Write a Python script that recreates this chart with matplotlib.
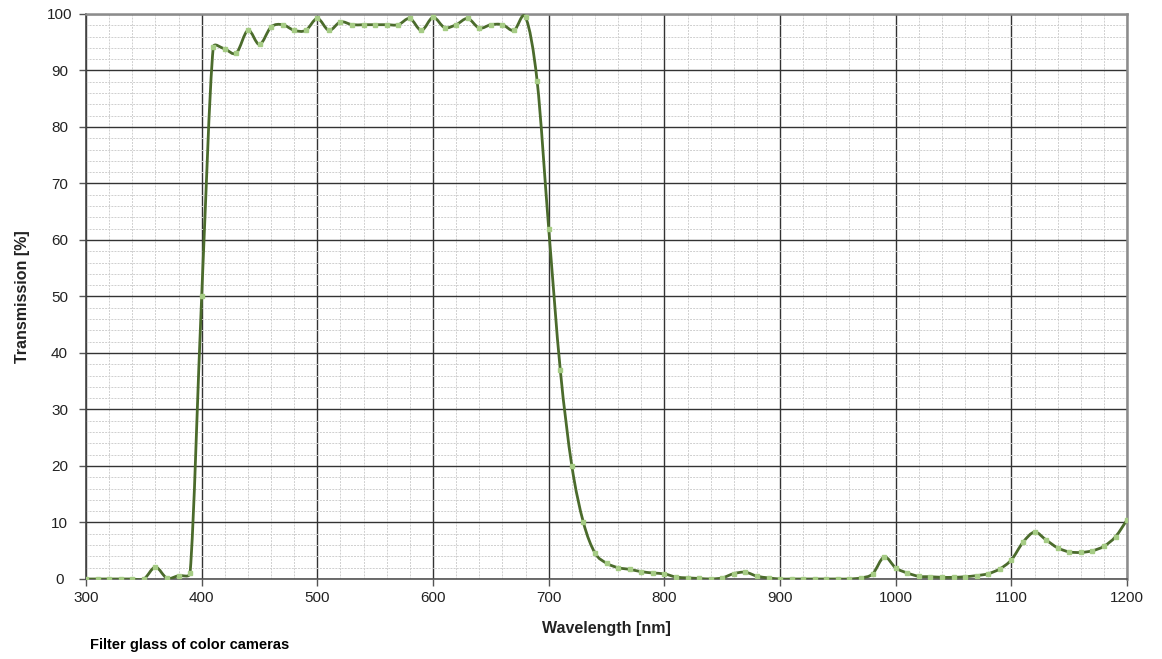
import numpy as np
import matplotlib.pyplot as plt
from matplotlib.path import Path
from matplotlib.patches import PathPatch
from matplotlib.ticker import MultipleLocator

plt.rcParams["font.family"] = ["Liberation Sans", "DejaVu Sans"]

# Wavelength samples every 10 nm
wavelength = np.arange(300, 1201, 10)

# Transmission
transmission = [
    0.0, 0.0, 0.0, 0.0, 0.0, 0.0, 2.1, 0.15, 0.6, 1.1,  # 300-390
    50.0, 94.1, 93.8, 93.1, 97.1, 94.6, 97.7, 98.1, 97.1, 97.1,  # 400-490
    99.2, 97.1, 98.6, 98.1, 98.1, 98.1, 98.1, 98.1, 99.2, 97.1,  # 500-590
    99.4, 97.6, 98.1, 99.2, 97.5, 98.1, 98.1, 97.1, 99.4, 88.1,  # 600-690
    62.0, 37.0, 20.0, 10.0, 4.6, 2.8, 2.0, 1.7, 1.3, 1.06,  # 700-790
    0.9, 0.35, 0.2, 0.1, 0.0, 0.2, 0.95, 1.2, 0.5, 0.2,  # 800-890
    0.0, 0.0, 0.0, 0.0, 0.0, 0.0, 0.0, 0.2, 0.9, 3.9,  # 900-990
    1.95, 1.06, 0.47, 0.4, 0.3, 0.3, 0.4, 0.6, 0.94, 1.8,  # 1000-1090
    3.4, 6.5, 8.3, 6.9, 5.5, 4.8, 4.7, 5.0, 5.8, 7.5,  # 1100-1190
    10.5,  # 1200
]

LINE_COLOR = "#4b6b2c"
MARKER_COLOR = "#a6cc85"


def smooth_path(x, y, sx=1041 / 900, sy=565 / 100, cap=0.5):
    """Excel style smoothed line: cubic Bezier through every point.
    Handles are capped relative to segment length (in pixel scale)
    so that steep edges do not overshoot much."""
    scale = np.array([sx, sy])
    pts = np.column_stack([x, y]).astype(float) * scale
    n = len(pts)
    verts = [pts[0]]
    codes = [Path.MOVETO]

    def limit(h, seg_len):
        L = np.hypot(*h)
        if L > cap * seg_len and L > 0:
            h = h * (cap * seg_len / L)
        return h

    for i in range(n - 1):
        p0 = pts[i - 1] if i > 0 else pts[i]
        p1 = pts[i]
        p2 = pts[i + 1]
        p3 = pts[i + 2] if i + 2 < n else pts[i + 1]
        seg = np.hypot(*(p2 - p1))
        c1 = p1 + limit((p2 - p0) / 6.0, seg)
        c2 = p2 - limit((p3 - p1) / 6.0, seg)
        verts += [c1, c2, p2]
        codes += [Path.CURVE4] * 3
    return Path(np.array(verts) / scale, codes)


fig = plt.figure(figsize=(11.62, 6.59), dpi=100)
ax = fig.add_axes([0.074, 0.1214, 0.896, 0.8574])

ax.add_patch(PathPatch(smooth_path(wavelength, transmission), facecolor="none",
                       edgecolor=LINE_COLOR, linewidth=2.0, zorder=3,
                       capstyle="round", joinstyle="round"))
ax.plot(wavelength, transmission, linestyle="none", marker="s", markersize=2.6,
        markerfacecolor=MARKER_COLOR, markeredgecolor=MARKER_COLOR, zorder=4)

ax.set_xlim(300, 1200)
ax.set_ylim(0, 100)
ax.xaxis.set_major_locator(MultipleLocator(100))
ax.xaxis.set_minor_locator(MultipleLocator(20))
ax.yaxis.set_major_locator(MultipleLocator(10))
ax.yaxis.set_minor_locator(MultipleLocator(2))

ax.grid(which="minor", color="#cfcfcf", linestyle=(0, (2, 1.2)), linewidth=0.7)
ax.grid(which="major", color="#333333", linestyle="-", linewidth=1.0)
ax.set_axisbelow(True)

for side in ["top", "right"]:
    ax.spines[side].set_color("#8c8c8c")
    ax.spines[side].set_linewidth(1.8)
ax.spines["left"].set_color("#444444")
ax.spines["left"].set_linewidth(1.2)
ax.spines["bottom"].set_color("#555555")
ax.spines["bottom"].set_linewidth(1.2)

ax.tick_params(which="major", direction="out", length=5, width=1,
               color="#555555", labelsize=11, labelcolor="#222222")
ax.tick_params(axis="y", pad=14)
ax.tick_params(which="minor", length=0)
for lbl in ax.get_yticklabels():
    lbl.set_horizontalalignment("center")

ax.set_xlabel("Wavelength [nm]", fontsize=11.5, fontweight="bold",
              color="#222222", labelpad=12)
ax.set_ylabel("Transmission [%]", fontsize=11.5, fontweight="bold",
              color="#222222", labelpad=12)

fig.text(0.0775, 0.010, "Filter glass of color cameras",
         fontsize=10.5, fontweight="bold", ha="left", va="bottom")

fig.savefig("out.png", dpi=100)
